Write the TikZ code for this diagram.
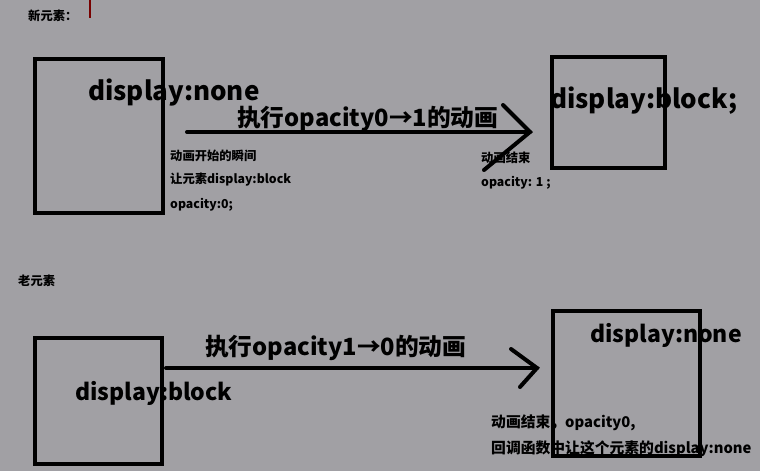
\documentclass[tikz,border=0pt]{standalone}
\usepackage{fontspec}
\setmainfont{Noto Sans CJK SC}
\definecolor{bg}{RGB}{161,160,164}
\definecolor{marker}{RGB}{120,0,0}
\begin{document}
\begin{tikzpicture}[x=1pt,y=-1pt,
  box/.style={draw=black,line width=4pt},
  stroke/.style={draw=black,line width=4pt,line cap=round},
  big/.style={inner sep=0,anchor=west,font=\bfseries\fontsize{26}{26}\selectfont},
  bigb/.style={inner sep=0,anchor=west,font=\bfseries\fontsize{23}{23}\selectfont},
  mid/.style={inner sep=0,anchor=west,font=\bfseries\fontsize{23.7}{24}\selectfont},
  small/.style={inner sep=0,anchor=west,font=\bfseries\fontsize{12.3}{12}\selectfont},
  note/.style={inner sep=0,anchor=west,font=\bfseries\fontsize{14.8}{15}\selectfont}]
\fill[bg] (0,0) rectangle (760,471);
\useasboundingbox (0,0) rectangle (760,471);
% marker
\draw[marker,line width=2pt] (90,0) -- (90,18);
% titles
\node[small] (t1) at (28,16) {新元素：};
\node[small] (t2) at (18,281) {老元素};
% top row
\node[big] (dn) at (88,93) {display:none};
\node[big] (db) at (550,101) {display:block;};
\node[mid] (l1) at (237,119) {执行opacity0→1的动画};
\node[small] (s1) at (170,156) {动画开始的瞬间};
\node[small] (s2) at (170,180) {让元素display:block};
\node[small] (s3) at (170,205) {opacity:0;};
\node[small] (e1) at (481,158) {动画结束};
\node[small] (e2) at (481,183) {opacity: 1 ;};
\draw[box] (35,59) rectangle (163,213);
\draw[box] (552,57) rectangle (665,168);
\coordinate (a1s) at (187,132);
\coordinate (a1e) at (530,132);
\coordinate (a1u) at (503,105);
\coordinate (a1d) at (484,170);
\draw[stroke] (a1s) -- (a1e);
\draw[stroke] (a1u) -- (a1e) -- (a1d);
% bottom row
\node[bigb] (bb) at (75,393) {display:block};
\node[bigb] (bn) at (590,335) {display:none};
\node[mid] (l2) at (205,348) {执行opacity1→0的动画};
\node[note] (f1) at (491,423) {动画结束，opacity0,};
\node[note] (f2) at (491,449) {回调函数中让这个元素的display:none};
\draw[box] (35,338) rectangle (162,464);
\draw[box] (553,311) rectangle (700,456);
\coordinate (a2s) at (166,368);
\coordinate (a2e) at (537,368);
\coordinate (a2u) at (511,349);
\coordinate (a2d) at (520,387);
\draw[stroke] (a2s) -- (a2e);
\draw[stroke] (a2u) -- (a2e) -- (a2d);
\end{tikzpicture}
\end{document}
